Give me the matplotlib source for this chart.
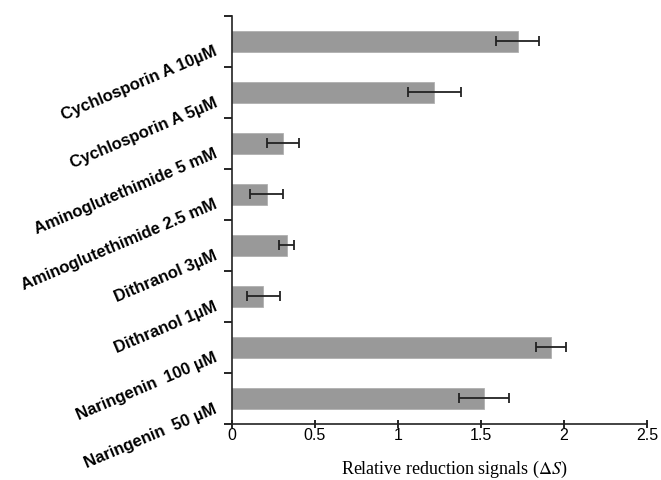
import matplotlib.pyplot as plt
import matplotlib.transforms as mtransforms
import numpy as np

plt.rcParams['mathtext.fontset'] = 'stix'

# 데이터 (위에서 아래 순서)
labels = ['Cychlosporin A 10µM', 'Cychlosporin A 5µM', 'Aminoglutethimide 5 mM',
          'Aminoglutethimide 2.5 mM', 'Dithranol 3µM', 'Dithranol 1µM',
          'Naringenin  100 µM', 'Naringenin  50 µM']
values = [1.72, 1.22, 0.31, 0.21, 0.33, 0.19, 1.92, 1.52]
errors = [0.13, 0.16, 0.095, 0.10, 0.047, 0.10, 0.09, 0.15]

fig = plt.figure(figsize=(6.61, 4.8), dpi=100)
ax = fig.add_axes([0.3505, 0.117, 0.6285, 0.850])

pos = np.arange(len(labels))
ax.barh(pos, values, height=0.41, color='#999999', edgecolor='#b0b0b0', linewidth=0.6,
        xerr=errors, error_kw=dict(ecolor='#222222', elinewidth=1.3, capsize=3.5, capthick=1.3))

ax.set_ylim(len(labels) - 0.5, -0.5)
ax.set_xlim(0, 2.5)
ax.set_xticks([0, 0.5, 1, 1.5, 2, 2.5])
ax.set_xticklabels(['0', '0.5', '1', '1.5', '2', '2.5'], fontfamily='Liberation Sans', fontsize=11.5)

ax.set_yticks(pos)
ax.set_yticks(np.arange(-0.5, len(labels)), minor=True)
ax.set_yticklabels(labels, rotation=23, ha='right', va='center', rotation_mode='anchor',
                   fontfamily='Liberation Sans', fontweight='bold', fontsize=12)
ax.tick_params(axis='y', which='major', length=0, pad=11)
ax.tick_params(axis='y', which='minor', length=6, width=1.2, direction='out')
ax.tick_params(axis='x', length=6, width=1.2, direction='inout', pad=0)

# 라벨을 조금 아래로 내리기
offset = mtransforms.ScaledTranslation(0, -7 / 72, fig.dpi_scale_trans)
for lab in ax.get_yticklabels():
    lab.set_transform(lab.get_transform() + offset)

ax.set_xlabel(r'Relative reduction signals ($\Delta S$)', fontfamily='Liberation Serif',
              fontsize=13)
ax.xaxis.set_label_coords(0.537, -0.085)

for s in ['top', 'right']:
    ax.spines[s].set_visible(False)
for s in ['left', 'bottom']:
    ax.spines[s].set_linewidth(1.2)
    ax.spines[s].set_color('#222222')

fig.savefig('out.png', dpi=100)
